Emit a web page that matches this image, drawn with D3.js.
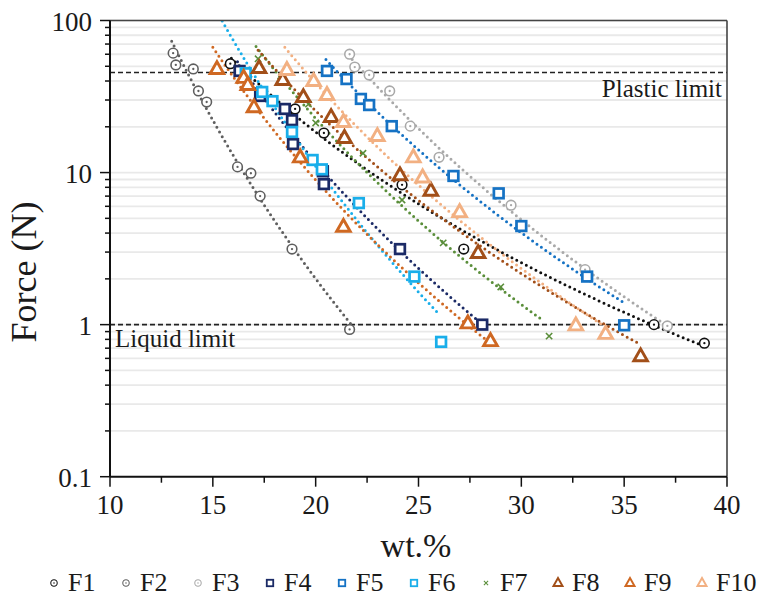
<!DOCTYPE html>
<html>
<head>
<meta charset="utf-8">
<script src="https://cdn.jsdelivr.net/npm/d3@7"></script>
<style>
  html, body { margin: 0; padding: 0; background: #fff; }
  svg { display: block; }
  text { font-family: "Liberation Serif", "Times New Roman", serif; fill: #1a1a1a; }
</style>
</head>
<body>
<svg id="chart" width="765" height="598"></svg>
<script>
// Water content (wt.%) vs. penetration force (N) for ten soil samples
const seriesNames = ["F1", "F2", "F3", "F4", "F5", "F6", "F7", "F8", "F9", "F10"];

const xF1 = [15.85, 19.0, 20.4, 24.2, 27.2, 36.45, 38.9];
const yF1 = [52, 26.2, 18.2, 8.3, 3.14, 1.0, 0.755];

const xF2 = [13.07, 13.2, 14.05, 14.3, 14.7, 16.2, 16.85, 17.3, 18.85, 21.65];
const yF2 = [61, 51, 48, 34.4, 29.1, 10.9, 9.9, 7.0, 3.14, 0.93];

const xF3 = [21.65, 21.9, 22.6, 23.6, 24.6, 26.0, 29.5, 33.1, 37.1];
const yF3 = [60, 49.4, 43.8, 34.4, 20.2, 12.6, 6.1, 2.3, 0.98];

const xF4 = [16.3, 17.3, 18.5, 18.85, 18.9, 20.35, 20.4, 24.1, 28.1];
const yF4 = [46.6, 31.9, 26.2, 22.1, 15.4, 10.2, 8.4, 3.14, 1.0];

const xF5 = [20.55, 21.5, 22.2, 22.6, 23.7, 26.7, 28.9, 30.0, 33.2, 35.0];
const yF5 = [46.6, 41.2, 30.5, 27.8, 20.2, 9.5, 7.3, 4.45, 2.07, 0.99];

const xF6 = [16.6, 17.4, 17.9, 18.85, 19.85, 20.3, 22.1, 24.8, 26.1];
const yF6 = [45, 33.9, 29.5, 18.5, 12.1, 10.5, 6.3, 2.07, 0.77];

const xF7 = [17.2, 18.3, 19.65, 20.0, 22.3, 24.2, 26.2, 29.0, 31.35];
const yF7 = [56, 40, 28.2, 21.2, 13.4, 6.6, 3.45, 1.77, 0.84];

const xF8 = [17.25, 18.4, 19.4, 20.75, 21.4, 24.1, 25.6, 27.9, 35.8];
const yF8 = [48.7, 40.6, 31.4, 23.2, 16.9, 9.6, 7.6, 2.96, 0.62];

const xF9 = [15.2, 16.5, 16.7, 17.0, 19.25, 21.35, 27.4, 28.5];
const yF9 = [48, 42, 37.7, 26.9, 12.6, 4.4, 1.02, 0.78];

const xF10 = [18.6, 19.9, 20.55, 21.35, 23.0, 24.75, 25.2, 27.0, 32.65, 34.1];
const yF10 = [47.3, 40, 32.4, 21.5, 17.4, 12.6, 9.3, 5.5, 0.99, 0.87];

// extent of each power-law trend line along the wt.% axis
const fitFrom = [15.9, 13.0, 21.6, 16.2, 20.5, 15.2, 17.1, 17.2, 15.0, 18.5];
const fitTo   = [38.7, 21.7, 37.1, 28.1, 35.0, 25.9, 31.1, 35.7, 28.5, 34.0];

const colors  = ["#111111", "#5f5f5f", "#a9a9a9", "#1b2a66", "#1572c4",
                 "#19aeea", "#5a8e3a", "#a24f19", "#cf6822", "#f2b082"];
const shapes  = ["circle", "circle", "circle", "square", "square",
                 "square", "cross", "triangle", "triangle", "triangle"];

const xTicks = [10, 15, 20, 25, 30, 35, 40];
const yTicks = [0.1, 1, 10, 100];
const plasticLimit = 45.5;
const liquidLimit = 1;

const xs = [xF1, xF2, xF3, xF4, xF5, xF6, xF7, xF8, xF9, xF10];
const ys = [yF1, yF2, yF3, yF4, yF5, yF6, yF7, yF8, yF9, yF10];

const svg = d3.select("#chart");
const margin = { left: 110, right: 38, top: 20.5, bottom: 121.3 };
const W = 765, H = 598;
const x = d3.scaleLinear().domain([10, 40]).range([margin.left, W - margin.right]);
const y = d3.scaleLog().domain([0.1, 100]).range([H - margin.bottom, margin.top]);

svg.append("defs").append("clipPath").attr("id", "plotClip")
  .append("rect")
  .attr("x", x(10)).attr("y", y(100))
  .attr("width", x(40) - x(10)).attr("height", y(0.1) - y(100));

// minor log values for gridlines and ticks
const minorVals = [];
[0.1, 1, 10].forEach(d => { for (let k = 1; k <= 9; k++) minorVals.push(d * k); });
minorVals.push(100);

// horizontal gridlines
svg.append("g").selectAll("line").data(minorVals.filter(v => v > 0.1)).join("line")
  .attr("x1", x(10)).attr("x2", x(40))
  .attr("y1", d => y(d)).attr("y2", d => y(d))
  .attr("stroke", "#e9e9e9").attr("stroke-width", 1.8);

// limit lines
const limG = svg.append("g");
[plasticLimit, liquidLimit].forEach(v => {
  limG.append("line")
    .attr("x1", x(10)).attr("x2", x(40))
    .attr("y1", y(v)).attr("y2", y(v))
    .attr("stroke", "#222").attr("stroke-width", 1.6)
    .attr("stroke-dasharray", "5,3");
});
limG.append("text").attr("x", x(40) - 5).attr("y", y(plasticLimit) + 24)
  .attr("text-anchor", "end").attr("font-size", 25).text("Plastic limit");
limG.append("text").attr("x", x(10) + 5).attr("y", y(liquidLimit) + 22)
  .attr("text-anchor", "start").attr("font-size", 25).text("Liquid limit");

// power-law trend lines (least squares in log-log space)
const trendG = svg.append("g").attr("clip-path", "url(#plotClip)");
xs.forEach((xv, i) => {
  const lx = xv.map(Math.log10), ly = ys[i].map(Math.log10);
  const mx = d3.mean(lx), my = d3.mean(ly);
  const b = d3.sum(lx, (v, j) => (v - mx) * (ly[j] - my)) / d3.sum(lx, v => (v - mx) ** 2);
  const a = my - b * mx;
  const pts = d3.range(0, 81).map(k => {
    const xx = fitFrom[i] + (fitTo[i] - fitFrom[i]) * k / 80;
    return [xx, Math.pow(10, a + b * Math.log10(xx))];
  });
  trendG.append("path")
    .attr("d", d3.line().x(d => x(d[0])).y(d => y(d[1]))(pts))
    .attr("fill", "none").attr("stroke", colors[i])
    .attr("stroke-width", 3).attr("stroke-linecap", "round")
    .attr("stroke-dasharray", "0,5.4");
});

// marker drawing
function marker(g, shape, color, s) {
  if (shape === "circle") {
    g.append("circle").attr("r", 4.6 * s).attr("fill", "#fff")
      .attr("stroke", color).attr("stroke-width", 1.5 * s);
    g.append("circle").attr("r", 1.1 * s).attr("fill", color);
  } else if (shape === "square") {
    const h = 4.6 * s;
    g.append("rect").attr("x", -h).attr("y", -h).attr("width", 2 * h).attr("height", 2 * h)
      .attr("fill", "#fff").attr("stroke", color).attr("stroke-width", 2.6 * s);
  } else if (shape === "triangle") {
    const r = 7 * s;
    const p = [[0, -r], [r * 0.92, r * 0.62], [-r * 0.92, r * 0.62]];
    g.append("path").attr("d", "M" + p.join("L") + "Z")
      .attr("fill", "#fff").attr("stroke", color).attr("stroke-width", 2.8 * s)
      .attr("stroke-linejoin", "miter");
  } else {
    const r = 3 * s;
    g.append("path").attr("d", `M${-r},${-r}L${r},${r}M${-r},${r}L${r},${-r}`)
      .attr("stroke", color).attr("stroke-width", 1.5 * s);
  }
}

const markG = svg.append("g");
xs.forEach((xv, i) => {
  xv.forEach((xx, j) => {
    const g = markG.append("g").attr("transform", `translate(${x(xx)},${y(ys[i][j])})`);
    marker(g, shapes[i], colors[i], 1.05);
  });
});

// frame
svg.append("line").attr("x1", x(10)).attr("x2", x(40)).attr("y1", y(100)).attr("y2", y(100))
  .attr("stroke", "#444").attr("stroke-width", 1.6);
svg.append("line").attr("x1", x(40)).attr("x2", x(40)).attr("y1", y(100)).attr("y2", y(0.1))
  .attr("stroke", "#444").attr("stroke-width", 1.6);

// y axis
const yAxis = svg.append("g").attr("transform", `translate(${x(10)},0)`);
yAxis.append("line").attr("y1", y(100)).attr("y2", y(0.1)).attr("stroke", "#111").attr("stroke-width", 2);
yAxis.selectAll(".mt").data(minorVals).join("line")
  .attr("x1", d => yTicks.includes(+d.toPrecision(3)) ? -10 : -5).attr("x2", 0)
  .attr("y1", d => y(d)).attr("y2", d => y(d))
  .attr("stroke", "#111").attr("stroke-width", 1.5);
yAxis.selectAll("text").data(yTicks).join("text")
  .attr("x", -18).attr("y", d => y(d) + 10)
  .attr("text-anchor", "end").attr("font-size", 27)
  .text(d => d3.format("~g")(d));

// x axis
const xAxis = svg.append("g").attr("transform", `translate(0,${y(0.1)})`);
xAxis.append("line").attr("x1", x(10)).attr("x2", x(40)).attr("stroke", "#111").attr("stroke-width", 2);
const xMinor = d3.range(12.5, 40, 5);
xAxis.selectAll(".xm").data(xMinor).join("line")
  .attr("x1", d => x(d)).attr("x2", d => x(d)).attr("y1", 0).attr("y2", 6)
  .attr("stroke", "#111").attr("stroke-width", 1.5);
xAxis.selectAll(".xM").data(xTicks).join("line")
  .attr("x1", d => x(d)).attr("x2", d => x(d)).attr("y1", 0).attr("y2", 10)
  .attr("stroke", "#111").attr("stroke-width", 1.5);
xAxis.selectAll("text").data(xTicks).join("text")
  .attr("x", d => x(d)).attr("y", 37)
  .attr("text-anchor", "middle").attr("font-size", 27)
  .text(d => d);

// axis titles
svg.append("text").attr("x", 416).attr("y", 557).attr("text-anchor", "middle")
  .attr("font-size", 34).text("wt.%");
svg.append("text").attr("transform", "translate(36,272) rotate(-90)")
  .attr("text-anchor", "middle").attr("font-size", 36).text("Force (N)");

// legend
const legend = svg.append("g");
seriesNames.forEach((name, i) => {
  const lx = 54 + i * 72;
  const g = legend.append("g").attr("transform", `translate(${lx},583)`);
  marker(g, shapes[i], colors[i], 0.7);
  legend.append("text").attr("x", lx + 14).attr("y", 591).attr("font-size", 26).text(name);
});
</script>
</body>
</html>
